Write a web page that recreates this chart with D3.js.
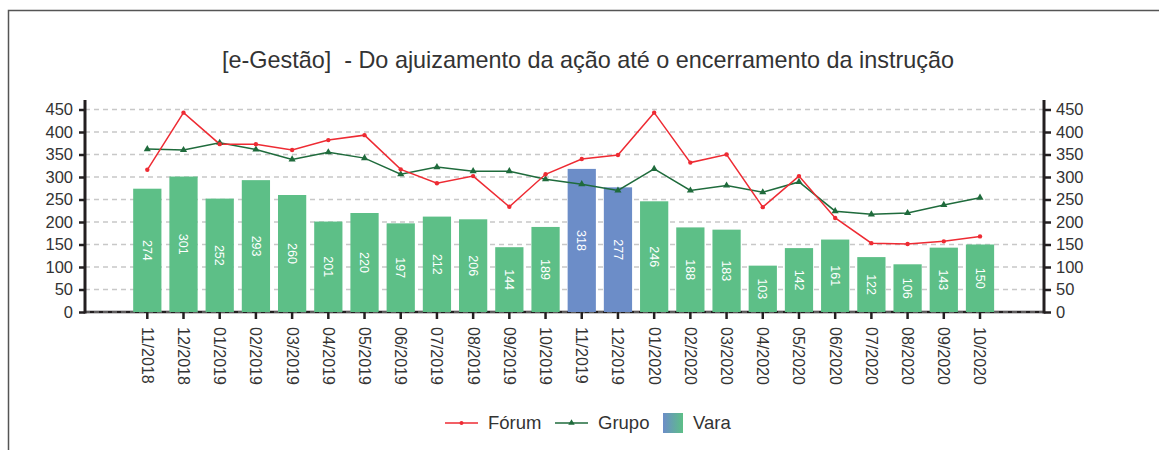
<!DOCTYPE html>
<html>
<head>
<meta charset="utf-8">
<script src="https://cdn.jsdelivr.net/npm/d3@7/dist/d3.min.js"></script>
<style>
  html, body { margin: 0; padding: 0; background: #fff; }
  svg { display: block; font-family: "Liberation Sans", Arial, sans-serif; }
</style>
</head>
<body>
<svg id="chart" width="1159" height="450"></svg>
<script>
const categories = ["11/2018","12/2018","01/2019","02/2019","03/2019","04/2019","05/2019","06/2019","07/2019","08/2019","09/2019","10/2019","11/2019","12/2019","01/2020","02/2020","03/2020","04/2020","05/2020","06/2020","07/2020","08/2020","09/2020","10/2020"];
const vara = [274,301,252,293,260,201,220,197,212,206,144,189,318,277,246,188,183,103,142,161,122,106,143,150];
const forum = [316,443,373,373,360,382,393,317,286,302,234,306,340,349,443,332,350,233,302,209,153,151,157,168];
const grupo = [362,360,376,361,339,355,342,306,322,313,313,295,284,270,318,270,281,266,289,224,217,220,238,254];
const highlighted = ["11/2019","12/2019"];
const yTicks = [0,50,100,150,200,250,300,350,400,450];
const title = "[e-Gestão]  - Do ajuizamento da ação até o encerramento da instrução";
const legendItems = ["Fórum","Grupo","Vara"];

const svg = d3.select("#chart");
const axL = 85, axR = 1044, y0 = 312, yTop = 100;
const firstC = 147.3, lastC = 980;
const step = (lastC - firstC) / (categories.length - 1);

const x = d3.scaleBand().domain(categories)
  .range([firstC - step/2, lastC + step/2])
  .paddingInner(0.22).paddingOuter(0.11);
const y = d3.scaleLinear().domain([0,450]).range([y0, 109.5]);
const cx = d => x(d) + x.bandwidth()/2;

const COL_GREEN = "#5dbf87", COL_BLUE = "#6c8dc8", COL_RED = "#ee2b33", COL_DKG = "#1f6b3c", TXT = "#333";
const FONT = "Liberation Sans, Arial, sans-serif";

// frame
svg.append("path").attr("d", "M8.5,450 L8.5,10.5 L1159,10.5")
  .attr("fill","none").attr("stroke","#555").attr("stroke-width",1.5);

// title
svg.append("text").attr("x", 588).attr("y", 68).attr("text-anchor","middle")
  .attr("font-size", 23.4).attr("fill", TXT).style("white-space","pre").text(title);

// grid
svg.append("g").selectAll("line").data(yTicks).join("line")
  .attr("x1", axL).attr("x2", axR).attr("y1", d => y(d)).attr("y2", d => y(d))
  .attr("stroke", "#c8c8c8").attr("stroke-width", 1.5).attr("stroke-dasharray","5,4");

// baseline
svg.append("line").attr("x1", axL).attr("x2", axR).attr("y1", y0).attr("y2", y0)
  .attr("stroke","#231f20").attr("stroke-width",2.5);
svg.append("line").attr("x1", axL).attr("x2", axR).attr("y1", y0).attr("y2", y0)
  .attr("stroke","#9a9a9a").attr("stroke-width",1).attr("stroke-dasharray","5,4");

// bars
const bars = svg.append("g");
bars.selectAll("rect").data(categories).join("rect")
  .attr("x", d => x(d)).attr("width", x.bandwidth())
  .attr("y", (d,i) => y(vara[i])).attr("height", (d,i) => y0 - y(vara[i]))
  .attr("fill", d => highlighted.includes(d) ? COL_BLUE : COL_GREEN);
bars.selectAll("text").data(categories).join("text")
  .attr("transform", (d,i) => `translate(${cx(d)},${(y(vara[i]) + y0)/2}) rotate(90)`)
  .attr("text-anchor","middle").attr("dy","0.35em")
  .attr("font-size", 12.5).attr("fill","#fff")
  .text((d,i) => vara[i]);

// axes
const leftAxis = svg.append("g").attr("transform", `translate(${axL},0)`)
  .call(d3.axisLeft(y).tickValues(yTicks).tickSize(6).tickPadding(6));
const rightAxis = svg.append("g").attr("transform", `translate(${axR},0)`)
  .call(d3.axisRight(y).tickValues(yTicks).tickSize(7).tickPadding(5));
[leftAxis, rightAxis].forEach(g => {
  g.select(".domain").remove();
  g.selectAll(".tick line").attr("stroke","#231f20").attr("stroke-width",2.5);
  g.selectAll(".tick text").attr("font-size",16.5).attr("fill",TXT).attr("font-family",FONT);
  g.append("line").attr("x1",0).attr("x2",0).attr("y1",yTop).attr("y2",y0+1.5)
    .attr("stroke","#231f20").attr("stroke-width",3);
});

// x axis
const xAxis = svg.append("g").attr("transform", `translate(0,${y0})`)
  .call(d3.axisBottom(x).tickSize(7).tickPadding(0));
xAxis.select(".domain").remove();
xAxis.selectAll(".tick line").attr("stroke","#231f20").attr("stroke-width",2.5);
xAxis.selectAll(".tick text")
  .attr("font-size",16).attr("fill",TXT).attr("font-family",FONT)
  .attr("text-anchor","start").attr("dy","0.35em")
  .attr("transform","translate(0,15) rotate(90)").attr("x",0).attr("y",0);

// lines
const line = arr => d3.line().x((d,i) => cx(categories[i])).y(d => y(d))(arr);
svg.append("path").attr("d", line(grupo)).attr("fill","none").attr("stroke",COL_DKG).attr("stroke-width",1.5);
svg.append("path").attr("d", line(forum)).attr("fill","none").attr("stroke",COL_RED).attr("stroke-width",1.5);
svg.append("g").selectAll("path").data(grupo).join("path")
  .attr("d", d3.symbol(d3.symbolTriangle, 22)())
  .attr("transform",(d,i) => `translate(${cx(categories[i])},${y(d)})`).attr("fill",COL_DKG);
svg.append("g").selectAll("circle").data(forum).join("circle")
  .attr("cx",(d,i) => cx(categories[i])).attr("cy", d => y(d)).attr("r",2.2).attr("fill",COL_RED);

// legend
const defs = svg.append("defs");
const grad = defs.append("linearGradient").attr("id","varaGrad");
grad.append("stop").attr("offset","0%").attr("stop-color",COL_BLUE);
grad.append("stop").attr("offset","100%").attr("stop-color",COL_GREEN);
const lg = svg.append("g");
const ly = 423;
// Fórum
lg.append("line").attr("x1",445).attr("x2",478).attr("y1",ly).attr("y2",ly).attr("stroke",COL_RED).attr("stroke-width",1.5);
lg.append("circle").attr("cx",461.5).attr("cy",ly).attr("r",2).attr("fill",COL_RED);
lg.append("text").attr("x",488).attr("y",ly).attr("dy","0.35em").attr("font-size",18.5).attr("fill",TXT).text(legendItems[0]);
// Grupo
lg.append("line").attr("x1",555).attr("x2",588).attr("y1",ly).attr("y2",ly).attr("stroke",COL_DKG).attr("stroke-width",1.5);
lg.append("path").attr("d", d3.symbol(d3.symbolTriangle, 18)()).attr("transform",`translate(571.5,${ly})`).attr("fill",COL_DKG);
lg.append("text").attr("x",598).attr("y",ly).attr("dy","0.35em").attr("font-size",18.5).attr("fill",TXT).text(legendItems[1]);
// Vara
lg.append("rect").attr("x",663).attr("y",413).attr("width",20).attr("height",20).attr("fill","url(#varaGrad)");
lg.append("text").attr("x",693).attr("y",ly).attr("dy","0.35em").attr("font-size",18.5).attr("fill",TXT).text(legendItems[2]);
</script>
</body>
</html>
